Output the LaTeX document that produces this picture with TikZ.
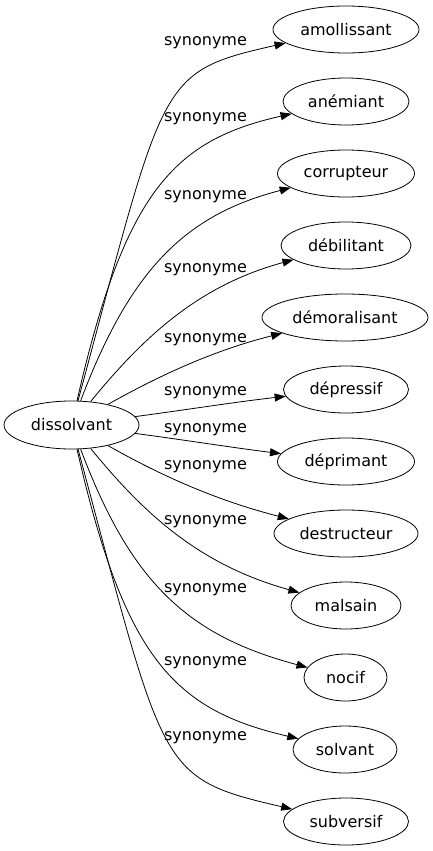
\documentclass[tikz,border=0pt]{standalone}
\usepackage{fontspec}
\setmainfont{DejaVu Sans}
\usetikzlibrary{shapes.geometric,arrows.meta}

\begin{document}
\begin{tikzpicture}[x=1bp,y=-1bp,line width=0.8bp,
  every node/.style={font=\fontsize{16bp}{19bp}\selectfont},
  word/.style={ellipse,draw,inner sep=0pt,minimum height=47bp},
  syn/.style={inner sep=0pt},
  rel/.style={-{Triangle[length=11bp,width=8bp]}}]
\useasboundingbox (0,0) rectangle (433,851);

\node[word,minimum width=135bp,minimum height=48bp] (dissolvant) at (71.5,425) {dissolvant};

\node[word,minimum width=146bp] (amollissant) at (346,29.5) {amollissant};
\node[word,minimum width=126bp] (anemiant) at (346,101.5) {anémiant};
\node[word,minimum width=137bp] (corrupteur) at (346,173.5) {corrupteur};
\node[word,minimum width=130bp] (debilitant) at (346,245.5) {débilitant};
\node[word,minimum width=166bp] (demoralisant) at (345,317.5) {démoralisant};
\node[word,minimum width=125bp] (depressif) at (346,389.5) {dépressif};
\node[word,minimum width=137bp] (deprimant) at (346,461.5) {déprimant};
\node[word,minimum width=144bp] (destructeur) at (346,533.5) {destructeur};
\node[word,minimum width=110bp] (malsain) at (346,605.5) {malsain};
\node[word,minimum width=83bp] (nocif) at (345.5,677.5) {nocif};
\node[word,minimum width=104bp] (solvant) at (345,749.5) {solvant};
\node[word,minimum width=125bp] (subversif) at (346,821.5) {subversif};

% labels
\node[syn] (s1) at (205.5,43) {synonyme};
\node[syn] (s2) at (205.5,119) {synonyme};
\node[syn] (s3) at (205.5,197) {synonyme};
\node[syn] (s4) at (205.5,270) {synonyme};
\node[syn] (s5) at (205.5,340) {synonyme};
\node[syn] (s6) at (205.5,393) {synonyme};
\node[syn] (s7) at (205.5,430) {synonyme};
\node[syn] (s8) at (205.5,467) {synonyme};
\node[syn] (s9) at (205.5,522) {synonyme};
\node[syn] (s10) at (205.5,590) {synonyme};
\node[syn] (s11) at (205.5,663) {synonyme};
\node[syn] (s12) at (205.5,738) {synonyme};

% edges
\draw[rel] (dissolvant) .. controls (165,78) and (157,72) .. (amollissant);
\draw[rel] (dissolvant) .. controls (125,190) and (175,140) .. (anemiant);
\draw[rel] (dissolvant) .. controls (130,270) and (185,215) .. (corrupteur);
\draw[rel] (dissolvant) .. controls (145,335) and (200,285) .. (debilitant);
\draw[rel] (dissolvant) .. controls (160,375) and (215,350) .. (demoralisant);
\draw[rel] (dissolvant) .. controls (185,410) and (235,402) .. (depressif);
\draw[rel] (dissolvant) .. controls (185,440) and (235,448) .. (deprimant);
\draw[rel] (dissolvant) .. controls (160,475) and (215,500) .. (destructeur);
\draw[rel] (dissolvant) .. controls (145,515) and (200,565) .. (malsain);
\draw[rel] (dissolvant) .. controls (130,580) and (185,635) .. (nocif);
\draw[rel] (dissolvant) .. controls (125,660) and (175,710) .. (solvant);
\draw[rel] (dissolvant) .. controls (165,772) and (157,778) .. (subversif);
\end{tikzpicture}
\end{document}
